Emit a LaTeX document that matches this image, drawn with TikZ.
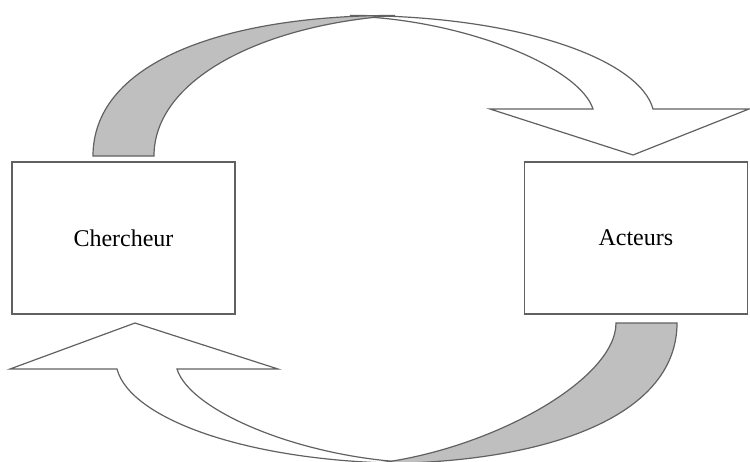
\documentclass[tikz,border=0pt]{standalone}
\usepackage{fontspec}
\setmainfont{Liberation Serif}
\usetikzlibrary{positioning}
\definecolor{trait}{gray}{0.38}
\definecolor{ombre}{gray}{0.75}

\begin{document}
\begin{tikzpicture}[x=0.5pt,y=-0.5pt,
  node distance=144pt,
  bloc/.style={draw=trait,line width=0.7pt,minimum width=111.5pt,
    minimum height=76pt,inner sep=0pt,font=\fontsize{12}{14}\selectfont},
  ruban/.style={draw=trait,line width=0.6pt,line join=miter}]
\useasboundingbox (0,0) rectangle (750,461);
\node[bloc] (cher) at (123.5,238) {Chercheur};
\node[bloc,right=of cher] (act) {Acteurs};
% aller : du chercheur vers les acteurs
\filldraw[ruban,fill=white] (350,15.5) .. controls (520,15) and (640,60) .. (653,109)
  -- (749,109) -- (633,155) -- (490,109) -- (593,109)
  .. controls (580,68) and (470,22) .. (360,16.5) -- cycle;
\filldraw[ruban,fill=ombre] (93,156) .. controls (93,60) and (230,15) .. (395,15.5)
  .. controls (260,25) and (154,80) .. (154,156) -- cycle;
% retour : des acteurs vers le chercheur
\filldraw[ruban,fill=white] (420,463.5) .. controls (250,464) and (130,419) .. (117,369)
  -- (10,369) -- (135,323) -- (278,369) -- (177,369)
  .. controls (190,411) and (300,457) .. (410,462.5) -- cycle;
\filldraw[ruban,fill=ombre] (677,323) .. controls (677,419) and (540,464) .. (375,463.5)
  .. controls (490,450) and (616,380) .. (616,323) -- cycle;
\end{tikzpicture}
\end{document}
